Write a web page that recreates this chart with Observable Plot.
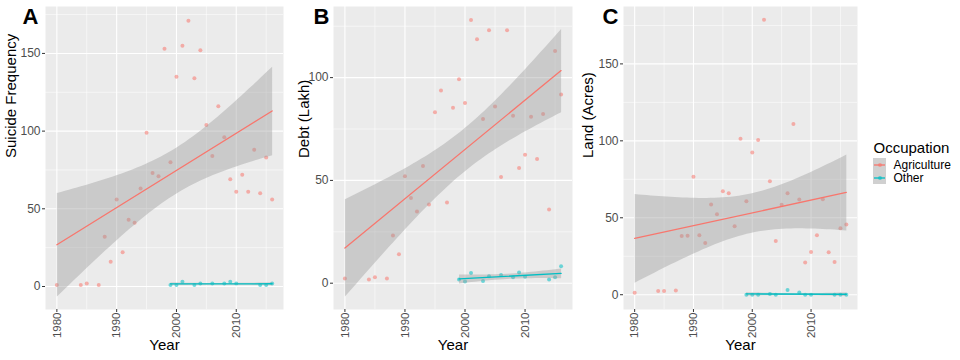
<!DOCTYPE html>
<html><head><meta charset="utf-8">
<script src="https://cdn.jsdelivr.net/npm/d3@7"></script>
<script src="https://cdn.jsdelivr.net/npm/@observablehq/plot@0.6"></script>
<style>
body{margin:0;background:#fff;}
#wrap{position:relative;width:960px;height:360px;overflow:hidden;font-family:"Liberation Sans",Arial,sans-serif;}
#wrap > div{position:absolute;}
</style></head><body><div id="wrap"></div>
<script>
// ---- data ----
const years = [1980,1984,1985,1987,1988,1989,1990,1991,1992,1993,1994,1995,1996,1997,1998,1999,2000,2001,2002,2003,2004,2005,2006,2007,2008,2009,2010,2011,2012,2013,2014,2015,2016];
const suicideAgri = [1,1,2,1,32,16,56,22,43,41,63,99,73,71,153,80,135,155,171,134,152,104,84,116,96,69,61,72,61,88,60,83,56];
const debtAgri = [2.3,1.8,2.9,2.3,23.2,14.1,52,41.4,34.9,57,38.3,83.1,93.7,39.2,85.4,99.2,87.7,128,118.7,79.9,123,85.9,51.6,123,81.5,56,62.5,81,60.4,82.3,35.9,113,91.8];
const landAgri = [1.3,2.4,2.4,2.8,38.2,38.4,76.6,38.6,33.6,58.6,52.3,67.3,66,44.5,101.4,60.8,92.5,100.5,178.7,73.8,34.9,58.4,66,111,61.9,21,27.8,38.6,62.1,27.6,21.3,43.2,45.6];
const otherYears = [1999,2000,2001,2003,2004,2006,2008,2009,2010,2014,2015,2016];
const suicideOther = [1,1,3,1,2,2,2,3,2,1,1,2];
const debtOther = [1.8,0.8,5,1.1,3.4,4,2.9,5.2,3.1,1.8,2.9,8.3];
const landOther = [0,0,0,0.5,0,3,1.5,0,0,0,0,0];
const occupations = ["Agriculture","Other"];
const occColors = ["#F8766D","#00BFC4"];
const xTicks = [1980,1990,2000,2010];
const xMinor = [1985,1995,2005,2015];
const xLabel = "Year";
const panelLetters = ["A","B","C"];
const yLabels = ["Suicide Frequency","Debt (Lakh)","Land (Acres)"];
const legendTitle = "Occupation";

const colorOf = d => occColors[occupations.indexOf(d)];
const rows = (xs, ys, occ) => xs.map((x, i) => ({year: x, value: ys[i], occupation: occ}));

function panel({agri, other, yDomain, yTicks, yMinor, letter, yLabel, width, marginLeft, marginRight, titleDx, letterDx}) {
  const A = rows(years, agri, occupations[0]);
  const O = rows(otherYears, other, occupations[1]);
  return Plot.plot({
    width, height: 360, marginLeft, marginRight, marginTop: 6, marginBottom: 51,
    style: {background: "transparent", fontFamily: "Liberation Sans, Arial, sans-serif", overflow: "visible"},
    x: {domain: [1978.1, 2017.9]},
    y: {domain: yDomain},
    marks: [
      Plot.frame({fill: "#EBEBEB", stroke: "none"}),
      Plot.ruleX(xMinor, {stroke: "white", strokeWidth: 0.55}),
      Plot.ruleY(yMinor, {stroke: "white", strokeWidth: 0.55}),
      Plot.ruleX(xTicks, {stroke: "white", strokeWidth: 1.1}),
      Plot.ruleY(yTicks, {stroke: "white", strokeWidth: 1.1}),
      Plot.axisX({ticks: xTicks, tickRotate: -90, tickSize: 3, tickPadding: 0, tickFormat: d => String(d), label: null, fontSize: 11.5, stroke: "#333", fill: "#4D4D4D"}),
      Plot.axisY({ticks: yTicks, tickSize: 3, tickPadding: 2, label: null, fontSize: 12, stroke: "#333", fill: "#4D4D4D"}),
      Plot.dot(A, {x: "year", y: "value", r: 2, fill: occColors[0], fillOpacity: 0.55, stroke: null}),
      Plot.dot(O, {x: "year", y: "value", r: 2, fill: occColors[1], fillOpacity: 0.55, stroke: null}),
      Plot.linearRegressionY(A, {x: "year", y: "value", stroke: occColors[0], fill: "#999999", fillOpacity: 0.4, strokeWidth: 1.3}),
      Plot.linearRegressionY(O, {x: "year", y: "value", stroke: occColors[1], fill: "#999999", fillOpacity: 0.4, strokeWidth: 1.3}),
      Plot.text([xLabel], {text: d => d, frameAnchor: "bottom", dy: 40, fontSize: 15, fill: "black"}),
      Plot.text([yLabel], {text: d => d, frameAnchor: "left", dx: titleDx, rotate: -90, fontSize: 15, fill: "black"}),
      Plot.text([letter], {text: d => d, frameAnchor: "top-left", dx: letterDx, dy: 2, lineAnchor: "top", textAnchor: "start", fontSize: 22, fontWeight: "bold", fill: "black"})
    ]
  });
}

const wrap = document.getElementById("wrap");
function place(node, left, top) {
  const d = document.createElement("div");
  d.style.left = left + "px"; d.style.top = top + "px";
  d.appendChild(node); wrap.appendChild(d);
}

place(panel({agri: suicideAgri, other: suicideOther, yDomain: [-14.8, 180.2], yTicks: [0,50,100,150], yMinor: [25,75,125,175],
  letter: panelLetters[0], yLabel: yLabels[0], width: 290, marginLeft: 45, marginRight: 7, titleDx: -34, letterDx: -23}), 0, 0);
place(panel({agri: debtAgri, other: debtOther, yDomain: [-12.8, 134.6], yTicks: [0,50,100], yMinor: [25,75,125],
  letter: panelLetters[1], yLabel: yLabels[1], width: 290, marginLeft: 43, marginRight: 8, titleDx: -29, letterDx: -20}), 290, 0);
place(panel({agri: landAgri, other: landOther, yDomain: [-9.6, 187.3], yTicks: [0,50,100,150], yMinor: [25,75,125,175],
  letter: panelLetters[2], yLabel: yLabels[2], width: 280, marginLeft: 43, marginRight: 3, titleDx: -35, letterDx: -21}), 580, 0);

// legend
const legend = Plot.plot({
  width: 92, height: 60, margin: 0,
  style: {background: "transparent", fontFamily: "Liberation Sans, Arial, sans-serif", overflow: "visible"},
  x: {domain: [0, 92], range: [0, 92], axis: null},
  y: {type: "band", domain: occupations, range: [29, 56], padding: 0, axis: null},
  marks: [
    Plot.text([legendTitle], {text: d => d, frameAnchor: "top-left", dx: 5, dy: 14, textAnchor: "start", fontSize: 15, fill: "black"}),
    Plot.barX(occupations, {x1: 5, x2: 18, y: d => d, fill: "#D0D0D0"}),
    Plot.ruleY(occupations, {y: d => d, x1: 6, x2: 17, stroke: colorOf, strokeWidth: 1.3}),
    Plot.dot(occupations, {x: 11.5, y: d => d, r: 2, fill: colorOf, fillOpacity: 0.6}),
    Plot.text(occupations, {x: 25, y: d => d, text: d => d, textAnchor: "start", fontSize: 12, fill: "black"})
  ]
});
place(legend, 868, 128);
</script>
</body></html>
